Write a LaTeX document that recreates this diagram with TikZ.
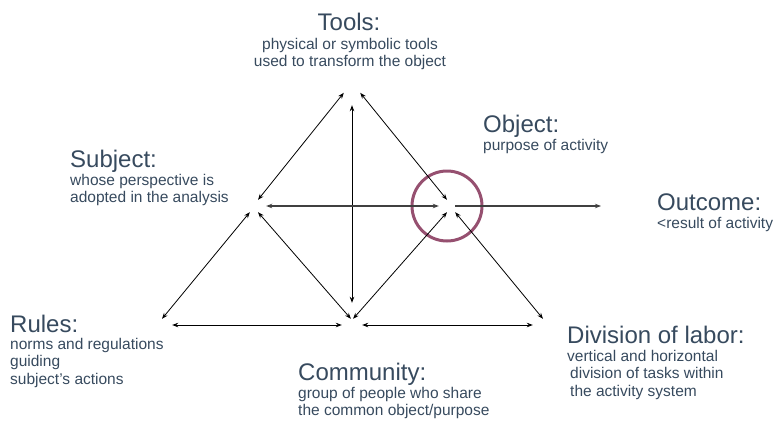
\documentclass[tikz,border=0pt]{standalone}
\usepackage{fontspec}
\setmainfont{Liberation Sans}
\usetikzlibrary{arrows.meta}
\definecolor{textblue}{RGB}{55,74,94}
\definecolor{ringred}{RGB}{150,80,112}

\begin{document}
\begin{tikzpicture}[x=1pt,y=-1pt,
   vertex/.style={rectangle,inner sep=0,minimum width=16pt,minimum height=12pt},
   heading/.style={text=textblue,inner sep=0,font=\fontsize{24}{27}\selectfont},
   note/.style={text=textblue,inner sep=0,align=left,font=\fontsize{15.5}{17.5}\selectfont},
   link/.style={<->,>={Stealth[length=6pt,width=4.5pt]},line width=0.8pt},
   bold link/.style={line width=1.6pt,draw=black!75}]
\useasboundingbox (0,0) rectangle (779,429);

% corners of the triangle
\node[vertex] (tools) at (352,99) {};
\node[vertex] (subj) at (258,206) {};
\node[vertex] (obj) at (447,206) {};
\node[vertex,minimum width=20pt] (rules) at (162,325) {};
\node[vertex,minimum width=20pt] (comm) at (352,325) {};
\node[vertex,minimum width=20pt] (div) at (543,325) {};
\coordinate (out) at (601,206);

\node[circle,draw=ringred,line width=3pt,minimum size=70pt,inner sep=0] (ring) at (obj) {};

% texts
\node[heading,anchor=base] (toolst) at (349,30) {Tools:};
\node[note,align=center,anchor=north] (toolsn) at (350,38) {physical or symbolic tools\\used to transform the object};
\node[heading,anchor=base west] (subjt) at (70,167) {Subject:};
\node[note,anchor=north west] (subjn) at (70,174) {whose perspective is\\adopted in the analysis};
\node[heading,anchor=base west] (objt) at (483,132) {Object:};
\node[note,anchor=north west] (objn) at (483,139) {purpose of activity};
\node[heading,anchor=base west] (outt) at (657,210) {Outcome:};
\node[note,anchor=north west] (outn) at (657,217) {<result of activity};
\node[heading,anchor=base west] (rulest) at (10,332) {Rules:};
\node[note,anchor=north west] (rulesn) at (10,338) {norms and regulations\\guiding\\subject’s actions};
\node[heading,anchor=base west] (commt) at (298,380) {Community:};
\node[note,anchor=north west] (commn) at (298,387) {group of people who share\\the common object/purpose};
\node[heading,anchor=base west] (divt) at (567,343) {Division of labor:};
\node[note,anchor=north west] (divn) at (567,350) {vertical and horizontal\\\hspace*{3pt}division of tasks within\\\hspace*{3pt}the activity system};

% connectors
\draw[link] (subj.north) -- (tools.north west);
\draw[link] (obj.north) -- (tools.north east);
\draw[link,shorten >=16pt] (tools.south) -- (comm.north);
\draw[link,bold link] (subj.east) -- (obj.west);
\draw[link,bold link,<-] (out) -- (obj.east);
\draw[link] (subj.south west) -- (rules.north);
\draw[link] (subj.south) -- (comm.100);
\draw[link] (obj.south) -- (comm.80);
\draw[link] (obj.south east) -- (div.north);
\draw[link] (rules.east) -- (comm.west);
\draw[link] (comm.east) -- (div.west);
\end{tikzpicture}
\end{document}
